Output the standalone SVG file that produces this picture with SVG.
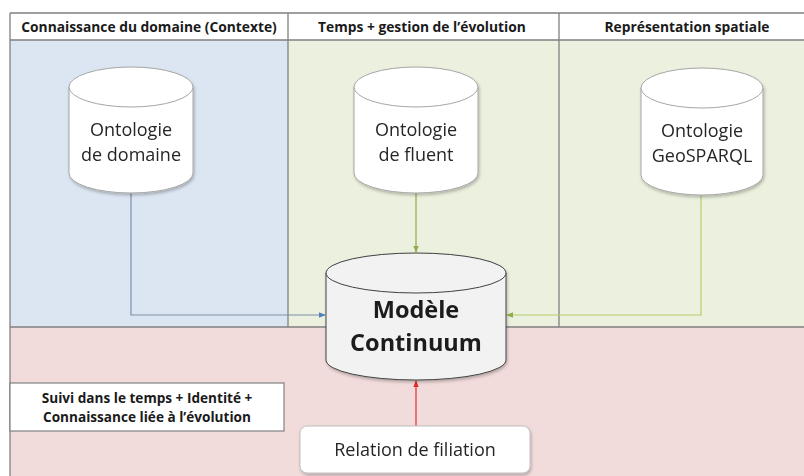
<svg xmlns="http://www.w3.org/2000/svg" width="804" height="476" viewBox="0 0 804 476">
<defs>
<style>
.hdr{font-family:"Open Sans","Liberation Sans",sans-serif;font-weight:bold;font-size:13.8px;fill:#1a1a1a;text-anchor:middle}
.lbl{font-family:"Open Sans","Liberation Sans",sans-serif;font-size:18px;fill:#262626;text-anchor:middle}
.big{font-family:"Open Sans","Liberation Sans",sans-serif;font-weight:bold;font-size:23.5px;fill:#1a1a1a;text-anchor:middle}
.note{font-family:"Open Sans","Liberation Sans",sans-serif;font-weight:bold;font-size:13.6px;fill:#1a1a1a;text-anchor:middle}
.cyl{fill:#ffffff;stroke:#a6a6a6;stroke-width:1}
.cylm{fill:#f2f2f2;stroke:#404040;stroke-width:1}
.grid{stroke:#808080;stroke-width:1.3;fill:none}
</style>
<filter id="sh" x="-20%" y="-20%" width="140%" height="140%">
<feDropShadow dx="1" dy="2" stdDeviation="1.5" flood-color="#000" flood-opacity="0.25"/>
</filter>
<marker id="ab" viewBox="0 0 10 10" refX="9" refY="5" markerWidth="6" markerHeight="6" orient="auto"><path d="M0,1 L10,5 L0,9 Z" fill="#4f81bd"/></marker>
<marker id="ag" viewBox="0 0 10 10" refX="9" refY="5" markerWidth="6" markerHeight="6" orient="auto"><path d="M0,1 L10,5 L0,9 Z" fill="#8fae4a"/></marker>
<marker id="ar" viewBox="0 0 10 10" refX="9" refY="5" markerWidth="6" markerHeight="6" orient="auto"><path d="M0,1 L10,5 L0,9 Z" fill="#e0302e"/></marker>
</defs>

<g id="background">
<rect x="0" y="0" width="804" height="476" fill="#ffffff"/>
<rect x="10" y="40" width="278" height="287" fill="#dce6f2"/>
<rect x="288" y="40" width="271" height="287" fill="#ebf1de"/>
<rect x="559" y="40" width="245" height="287" fill="#ebf1de"/>
<rect x="10" y="327" width="794" height="149" fill="#f2dcdb"/>
<rect x="10" y="13" width="794" height="27" fill="#ffffff"/>
<path class="grid" d="M10,13 H804 M10,40 H804 M10,327 H804 M10,13 V476 M288,13 V327 M559,13 V327"/>
<text class="hdr" x="149" y="31.5">Connaissance du domaine (Contexte)</text>
<text class="hdr" x="422" y="31.5">Temps + gestion de l’évolution</text>
<text class="hdr" x="687" y="31.5">Représentation spatiale</text>
</g>

<g id="connectors" fill="none">
<path d="M131,193 V315 H325" stroke="#7f8fa6" stroke-width="1.2" marker-end="url(#ab)"/>
<path d="M416,193 V252" stroke="#8fae4a" stroke-width="1.2" marker-end="url(#ag)"/>
<path d="M701,195 V315 H507" stroke="#b5cf6a" stroke-width="1.2" marker-end="url(#ag)"/>
<path d="M416,426 V381" stroke="#e0302e" stroke-width="1.2" marker-end="url(#ar)"/>
</g>

<g id="ontologie-domaine" filter="url(#sh)">
<path class="cyl" d="M69,87 V173 A62,20 0 0 0 193,173 V87"/>
<ellipse class="cyl" cx="131" cy="87" rx="62" ry="20"/>
<text class="lbl" x="131" y="136">Ontologie</text>
<text class="lbl" x="131" y="161">de domaine</text>
</g>

<g id="ontologie-fluent" filter="url(#sh)">
<path class="cyl" d="M354,87 V173 A62,20 0 0 0 478,173 V87"/>
<ellipse class="cyl" cx="416" cy="87" rx="62" ry="20"/>
<text class="lbl" x="416" y="136">Ontologie</text>
<text class="lbl" x="416" y="161">de fluent</text>
</g>

<g id="ontologie-geosparql" filter="url(#sh)">
<path class="cyl" d="M641,88 V175 A61,20 0 0 0 763,175 V88"/>
<ellipse class="cyl" cx="702" cy="88" rx="61" ry="20"/>
<text class="lbl" x="702" y="137">Ontologie</text>
<text class="lbl" x="702" y="162">GeoSPARQL</text>
</g>

<g id="modele-continuum" filter="url(#sh)">
<path class="cylm" d="M326,273 V360 A90,20 0 0 0 506,360 V273"/>
<ellipse class="cylm" cx="416" cy="273" rx="90" ry="20"/>
<text class="big" x="416" y="318">Modèle</text>
<text class="big" x="416" y="351">Continuum</text>
</g>

<g id="suivi">
<rect x="10" y="383" width="274" height="48" fill="#ffffff" stroke="#808080" stroke-width="1.2"/>
<text class="note" x="147" y="403">Suivi dans le temps + Identité +</text>
<text class="note" x="147" y="422">Connaissance liée à l’évolution</text>
</g>

<g id="relation-filiation" filter="url(#sh)">
<rect x="300" y="426" width="230" height="47" rx="7" ry="7" fill="#ffffff" stroke="#bfbfbf" stroke-width="1"/>
<text class="lbl" x="415" y="456">Relation de filiation</text>
</g>
</svg>
